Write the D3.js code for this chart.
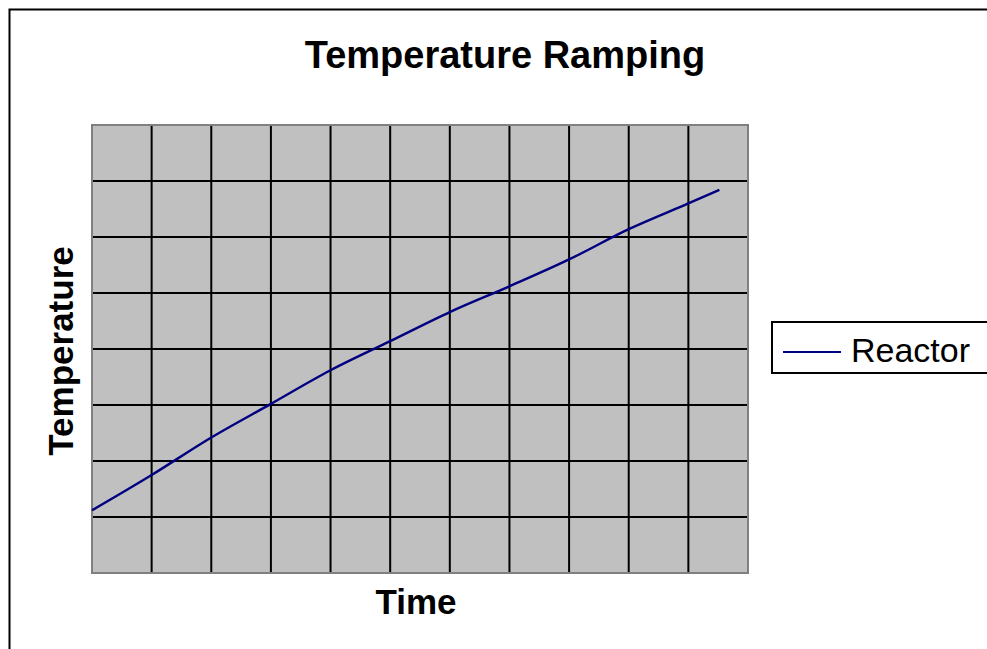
<!DOCTYPE html>
<html>
<head>
<meta charset="utf-8">
<script src="https://cdn.jsdelivr.net/npm/d3@7"></script>
<style>
    body { margin: 0; background: #fff; }
    svg { display: block; }
    text { font-family: "Liberation Sans", Arial, sans-serif; fill: #000; }
</style>
</head>
<body>
<script>

// Data

const title = 'Temperature Ramping'
const xLabel = 'Time'
const yLabel = 'Temperature'
const seriesName = 'Reactor'

const xTicks = [0, 1, 2, 3, 4, 5, 6, 7, 8, 9, 10, 11]
const yTicks = [0, 50, 100, 150, 200, 250, 300, 350, 400]

const time = [0, 1, 2, 3, 4, 5, 6, 7, 8, 9, 10, 10.52]
const reactor = [56, 87.5, 121, 151, 181, 207, 233, 256, 280, 307, 330, 342]

// Layout

const W = 987, H = 649
const plot = { left: 92, top: 125, right: 748, bottom: 573 }

const svg = d3.select('body').append('svg')
    .attr('width', W)
    .attr('height', H)

// outer chart border (runs off the right and bottom edges)
svg.append('rect')
    .attr('x', 9.5).attr('y', 9.5)
    .attr('width', W + 20).attr('height', H + 20)
    .attr('fill', '#fff')
    .attr('stroke', '#000')
    .attr('stroke-width', 2)

const x = d3.scaleLinear().domain([0, 11]).range([plot.left, plot.right])
const y = d3.scaleLinear().domain([0, 400]).range([plot.bottom, plot.top])

// plot area
svg.append('rect')
    .attr('x', plot.left).attr('y', plot.top)
    .attr('width', plot.right - plot.left)
    .attr('height', plot.bottom - plot.top)
    .attr('fill', '#c0c0c0')

const grid = svg.append('g')
    .attr('stroke', '#000')
    .attr('stroke-width', 2)

grid.selectAll('.vx')
    .data(xTicks.slice(1, -1))
    .join('line')
    .attr('x1', d => x(d)).attr('x2', d => x(d))
    .attr('y1', plot.top).attr('y2', plot.bottom)

grid.selectAll('.hy')
    .data(yTicks.slice(1, -1))
    .join('line')
    .attr('y1', d => y(d)).attr('y2', d => y(d))
    .attr('x1', plot.left).attr('x2', plot.right)

svg.append('rect')
    .attr('x', plot.left).attr('y', plot.top)
    .attr('width', plot.right - plot.left)
    .attr('height', plot.bottom - plot.top)
    .attr('fill', 'none')
    .attr('stroke', '#808080')
    .attr('stroke-width', 2)

// series
const line = d3.line()
    .x((d, i) => x(time[i]))
    .y(d => y(d))
    .curve(d3.curveMonotoneX)

svg.append('path')
    .datum(reactor)
    .attr('d', line)
    .attr('fill', 'none')
    .attr('stroke', '#000080')
    .attr('stroke-width', 2.4)

// titles
svg.append('text')
    .attr('x', 505).attr('y', 68)
    .attr('text-anchor', 'middle')
    .attr('font-size', 38)
    .attr('font-weight', 'bold')
    .text(title)

svg.append('text')
    .attr('x', 416).attr('y', 614)
    .attr('text-anchor', 'middle')
    .attr('font-size', 35)
    .attr('font-weight', 'bold')
    .text(xLabel)

svg.append('text')
    .attr('transform', 'translate(73,351) rotate(-90)')
    .attr('text-anchor', 'middle')
    .attr('font-size', 35)
    .attr('font-weight', 'bold')
    .text(yLabel)

// legend
const legend = svg.append('g')

legend.append('rect')
    .attr('x', 772).attr('y', 322)
    .attr('width', 260).attr('height', 51)
    .attr('fill', '#fff')
    .attr('stroke', '#000')
    .attr('stroke-width', 2)

legend.append('line')
    .attr('x1', 783).attr('x2', 841)
    .attr('y1', 352).attr('y2', 352)
    .attr('stroke', '#000080')
    .attr('stroke-width', 2)

legend.append('text')
    .attr('x', 851).attr('y', 362)
    .attr('font-size', 34)
    .text(seriesName)

</script>
</body>
</html>
